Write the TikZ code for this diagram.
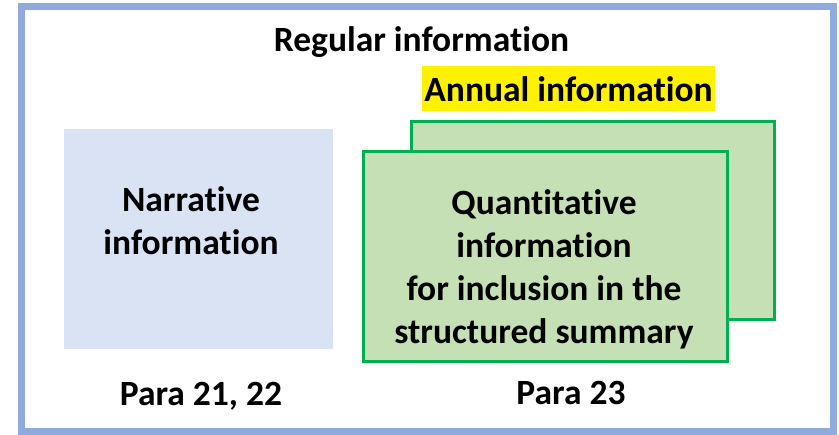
\documentclass[tikz,border=0pt]{standalone}
\usepackage{fontspec}
\setmainfont[Ligatures=CommonOff]{Carlito}
\definecolor{framecol}{HTML}{8FAADC}
\definecolor{narrfill}{HTML}{DAE3F3}
\definecolor{gfill}{HTML}{C5E0B4}
\definecolor{gline}{HTML}{00B050}
\begin{document}
\begin{tikzpicture}[x=1pt,y=-1pt,
  box/.style={inner sep=0pt,outer sep=0pt},
  txt/.style={font=\fontsize{35.5}{43}\selectfont\bfseries,inner sep=0pt,align=center,anchor=base},
  greenbox/.style={box,draw=gline,line width=3pt,fill=gfill}]
\useasboundingbox (0,0) rectangle (839,435);
\node[box,draw=framecol,line width=6.5pt,minimum width=812.4pt,minimum height=425.4pt] (frame) at (427.5,219) {};
\node[box,fill=narrfill,minimum width=269pt,minimum height=220pt] (narr) at (198.5,239) {};
\node[greenbox,minimum width=363pt,minimum height=198pt] (back) at (593,220.5) {};
\node[greenbox,minimum width=364pt,minimum height=210pt] (front) at (545.5,256.5) {};
\node[box,fill=yellow,minimum width=293pt,minimum height=45pt] (hl) at (568.5,88.5) {};
\node[txt] (reg) at (421.5,51.7) {Regular information};
\node[txt] (annual) at (568.5,101.7) {Annual information};
\node[txt,font=\fontsize{35.5}{43.3}\selectfont\bfseries] (narrtxt) at (191,255) {Narrative\\information};
\node[txt,font=\fontsize{35.5}{42.8}\selectfont\bfseries] (quant) at (544,343.3) {Quantitative\\information\\for inclusion in the\\structured summary};
\node[txt] (p1) at (201,406) {Para 21, 22};
\node[txt] (p2) at (571,405) {Para 23};
\end{tikzpicture}
\end{document}
